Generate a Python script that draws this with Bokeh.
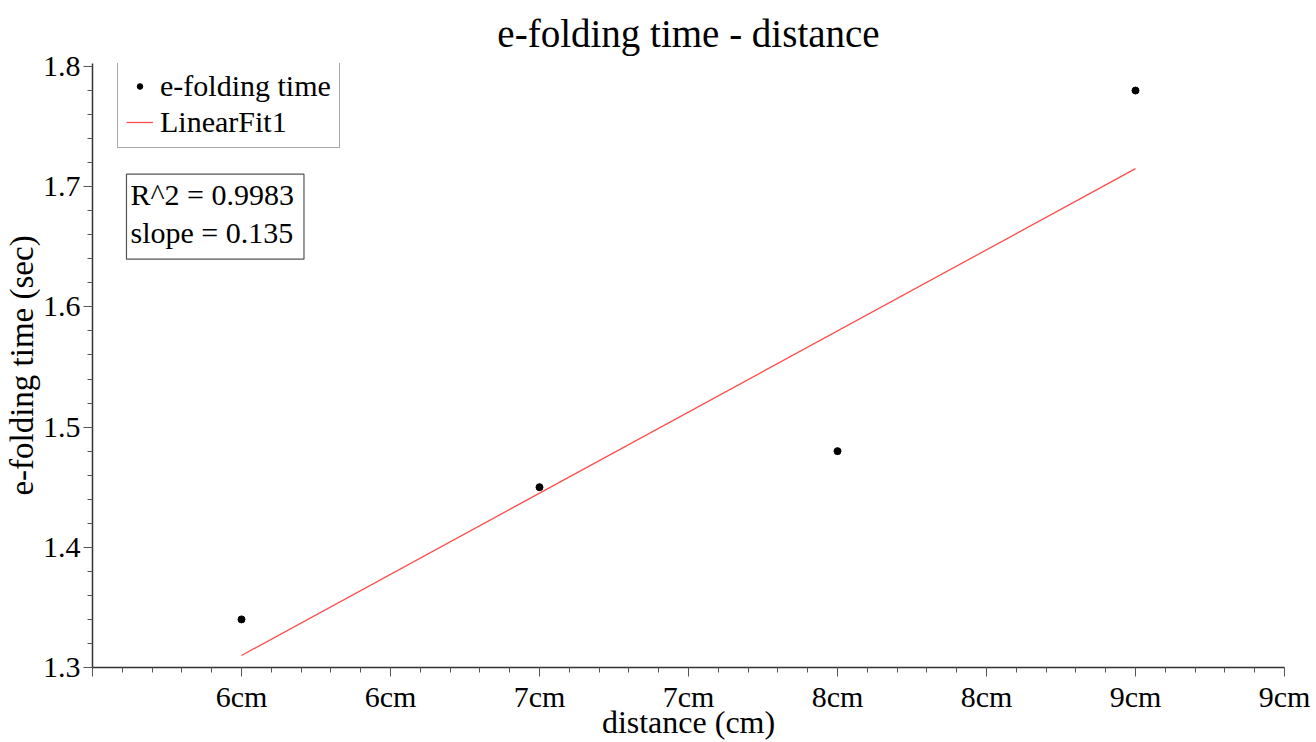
from bokeh.plotting import figure
from bokeh.models import Range1d, FixedTicker, Legend, LegendItem, Label
from bokeh.embed import file_html
from bokeh.resources import INLINE

# ---- data ----
distance_cm = [6, 7, 8, 9]
efold_sec = [1.34, 1.45, 1.48, 1.78]
fit_slope = 0.135
fit_intercept = 0.5
r_squared = 0.9983

x_ticks = [5.5, 6.0, 6.5, 7.0, 7.5, 8.0, 8.5, 9.0, 9.5]
x_tick_labels = ["", "6cm", "6cm", "7cm", "7cm", "8cm", "8cm", "9cm", "9cm"]
y_ticks = [1.3, 1.4, 1.5, 1.6, 1.7, 1.8]
y_tick_labels = ["1.3", "1.4", "1.5", "1.6", "1.7", "1.8"]

fit_x = [distance_cm[0], distance_cm[-1]]
fit_y = [fit_intercept + fit_slope * v for v in fit_x]

FONT = "Liberation Serif"

p = figure(width=1316, height=742, output_backend="svg", toolbar_location=None,
           x_range=Range1d(5.5, 9.5), y_range=Range1d(1.3, 1.8025),
           min_border_left=92, min_border_right=32, min_border_top=63, min_border_bottom=73)

p.title.text = "e-folding time - distance"
p.title.align = "center"
p.title.text_font = FONT
p.title.text_font_size = "39px"
p.title.text_font_style = "normal"
p.title.text_color = "black"
p.title.standoff = 18

p.outline_line_color = None
p.xgrid.visible = False
p.ygrid.visible = False
p.background_fill_color = "white"
p.border_fill_color = "white"

minor_x = [round(5.5 + 0.1 * i, 2) for i in range(41)]
minor_y = [round(1.3 + 0.02 * i, 3) for i in range(26)]

p.xaxis.ticker = FixedTicker(ticks=x_ticks, minor_ticks=minor_x)
p.yaxis.ticker = FixedTicker(ticks=y_ticks, minor_ticks=minor_y)
p.xaxis.major_label_overrides = {t: l for t, l in zip(x_ticks, x_tick_labels)}
p.yaxis.major_label_overrides = {t: l for t, l in zip(y_ticks, y_tick_labels)}

for ax in (p.xaxis, p.yaxis):
    ax.axis_line_color = "#333333"
    ax.axis_line_width = 1.5
    ax.major_tick_line_color = "#555555"
    ax.minor_tick_line_color = "#555555"
    ax.major_tick_in = 0
    ax.minor_tick_in = 0
    ax.major_tick_out = 9
    ax.minor_tick_out = 5
    ax.major_label_text_font = FONT
    ax.major_label_text_font_size = "30px"
    ax.major_label_text_color = "black"
    ax.axis_label_text_font = FONT
    ax.axis_label_text_font_style = "normal"
    ax.axis_label_text_color = "black"
    ax.major_label_standoff = 3

p.xaxis.axis_label = "distance (cm)"
p.yaxis.axis_label = "e-folding time (sec)"
p.xaxis.axis_label_text_font_size = "32px"
p.yaxis.axis_label_text_font_size = "33px"
p.xaxis.axis_label_standoff = -12
p.yaxis.axis_label_standoff = 0

pts = p.scatter(distance_cm, efold_sec, size=7, color="black")
ln = p.line(fit_x, fit_y, line_color="#ff4d4d", line_width=1.3)

legend = Legend(items=[LegendItem(label="e-folding time", renderers=[pts]),
                       LegendItem(label="LinearFit1", renderers=[ln])],
                location=(25, 519), margin=0, padding=8, spacing=2,
                glyph_width=27, glyph_height=14, label_height=30, label_standoff=7,
                label_text_font=FONT, label_text_font_size="30px",
                label_text_color="black",
                border_line_color="#555555", border_line_width=1.2,
                background_fill_alpha=1.0)
p.add_layout(legend, "center")

stats = Label(x=5.614, y=1.7104, x_units="data", y_units="data",
              text="R^2 = %.4f\nslope = %.3f" % (r_squared, fit_slope),
              anchor="top_left", text_font=FONT, text_font_size="30px",
              text_line_height=1.15, text_color="black", padding=(4, 10, 4, 10),
              border_line_color="#555555", border_line_width=1.2,
              background_fill_color="white")
p.add_layout(stats)

open("out.html", "w").write(file_html(p, INLINE))
